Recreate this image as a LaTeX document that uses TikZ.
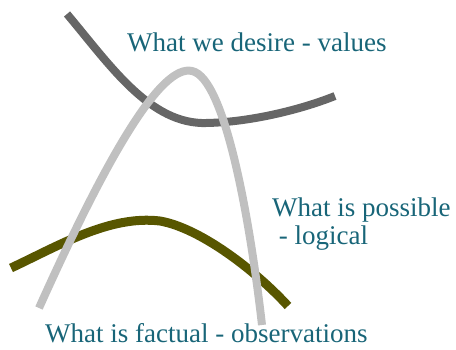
\documentclass[tikz,border=0pt]{standalone}
\usepackage{fontspec}
\setmainfont{Liberation Serif}
\definecolor{txt}{RGB}{24,101,120}
\definecolor{darkc}{RGB}{102,102,102}
\definecolor{lightc}{RGB}{192,192,192}
\definecolor{olivec}{RGB}{88,86,0}
\begin{document}
\begin{tikzpicture}[x=1pt,y=-1pt,
  lbl/.style={anchor=base west,inner sep=0pt,text=txt,font=\fontsize{27}{31}\selectfont},
  curve/.style={line width=8pt,line cap=butt}]
\useasboundingbox (0,0) rectangle (456,350);
% dark gray curve: values
\draw[curve,darkc] (67,14) .. controls (110,65) and (150,125) .. (207,123)
  .. controls (250,122) and (300,110) .. (335,96);
% olive curve: factual
\draw[curve,line width=9pt,olivec] (11,268) .. controls (60,245) and (110,215) .. (160,221)
  .. controls (200,228) and (255,270) .. (288,306);
% light gray curve: possible
\draw[curve,lightc] (39,308) .. controls (110,150) and (162,64) .. (192,71)
  .. controls (225,78) and (250,220) .. (262,325);
\node[lbl] (values) at (127,52) {What we desire - values};
\node[lbl] (possible) at (272,217) {What is possible};
\node[lbl] (logical) at (272,245) {\ - logical};
\node[lbl] (factual) at (45,343) {What is factual - observations};
\end{tikzpicture}
\end{document}
